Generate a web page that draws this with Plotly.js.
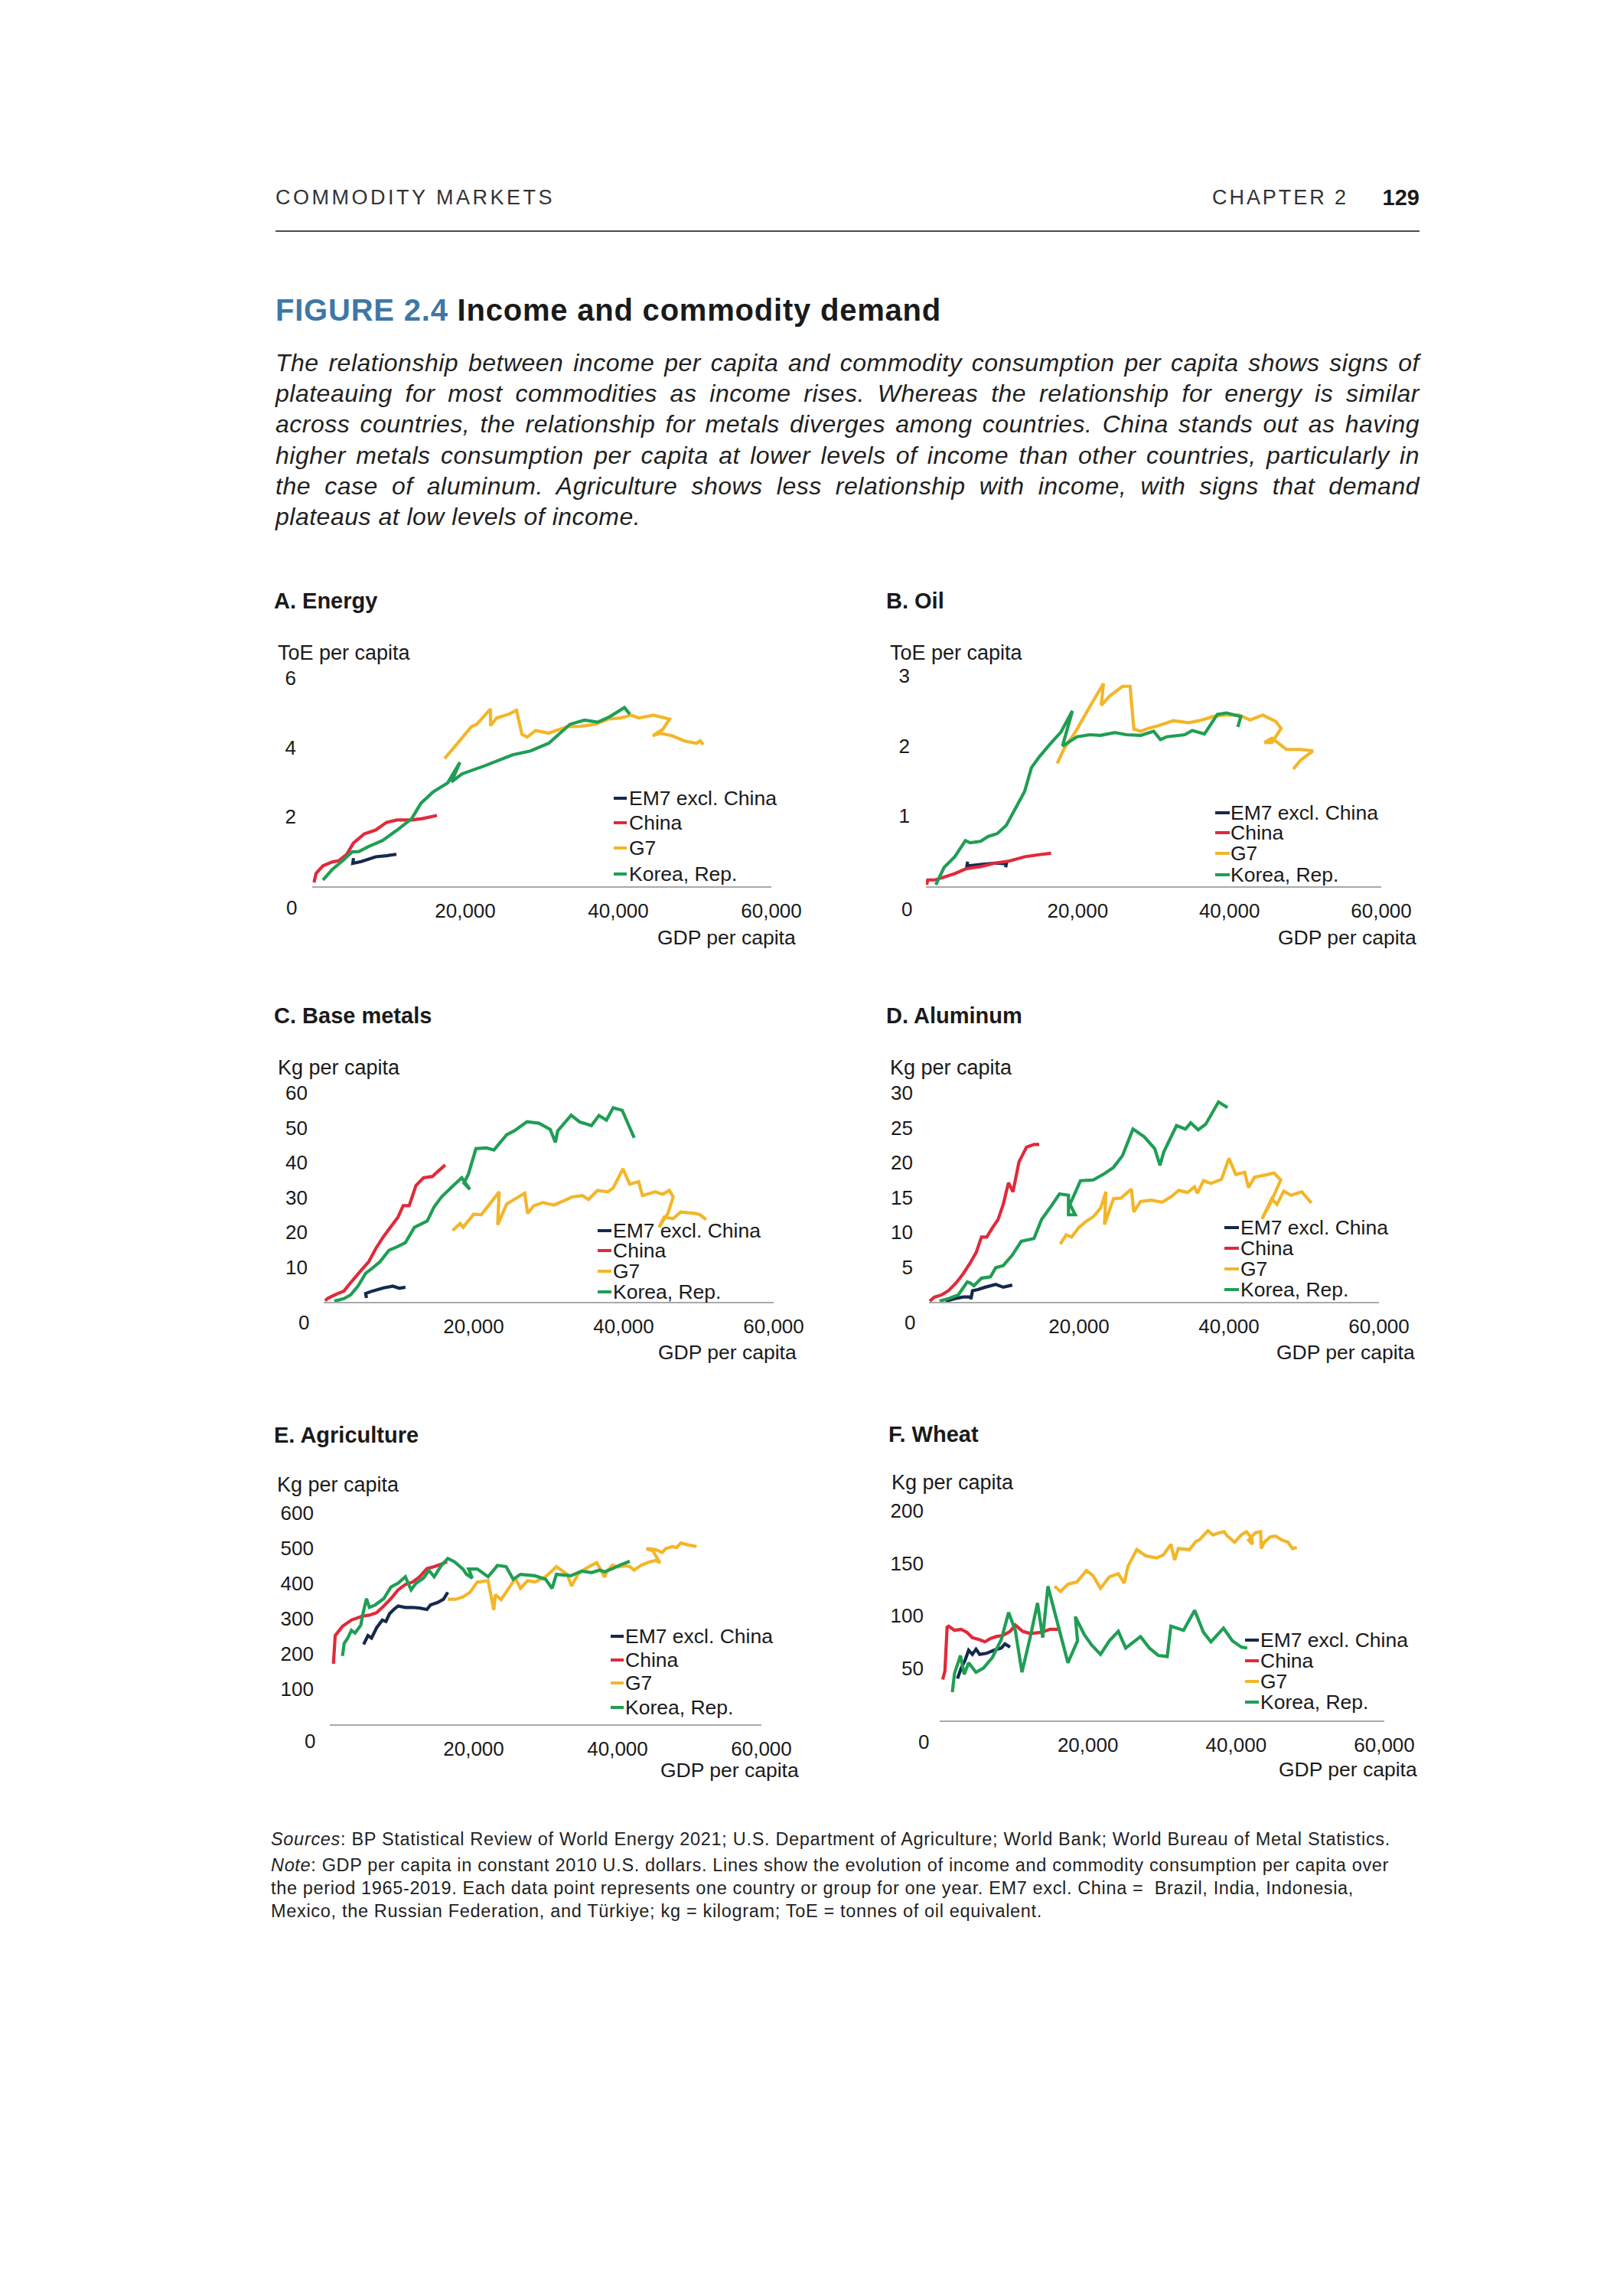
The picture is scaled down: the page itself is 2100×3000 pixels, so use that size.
<!DOCTYPE html>
<html>
<head>
<meta charset="utf-8">
<script src="https://cdn.plot.ly/plotly-3.0.1.min.js"></script>
<style>
html,body{margin:0;padding:0;background:#fff;}
body{width:2100px;height:3000px;position:relative;overflow:hidden;font-family:"Liberation Sans",Arial,Helvetica,sans-serif;color:#1a1a1a;}
#chart{position:absolute;left:0;top:0;width:2100px;height:3000px;z-index:1;}
.txt{position:absolute;z-index:2;white-space:nowrap;}
#hdrL{left:360px;top:245px;font-size:27px;line-height:27px;color:#333;}
#hdrR{left:1584px;top:245px;font-size:27px;line-height:27px;color:#333;}
#pageNo{right:245px;top:244px;font-size:29px;line-height:29px;font-weight:bold;color:#1a1a1a;}
#rule{position:absolute;left:360px;top:301px;width:1495px;height:2px;background:#4d4d4d;z-index:2;}
#figTitle{left:360px;top:385px;font-size:40px;line-height:40px;font-weight:bold;color:#1a1a1a;}
#figTitle .num{color:#3f77a5;}
#para{position:absolute;left:360px;top:454px;width:1495px;z-index:2;}
#para div{font-size:32px;line-height:40.2px;font-style:italic;white-space:nowrap;text-align:justify;text-align-last:justify;color:#1f1f1f;width:1495px;}
#para div.last{text-align-last:left;}
#src{left:354px;top:2388px;font-size:23.5px;line-height:30px;color:#1f1f1f;}
#note{left:354px;top:2422px;font-size:23.5px;line-height:30px;color:#1f1f1f;}
#note div{white-space:nowrap;}
</style>
</head>
<body>
<div class="txt" id="hdrL" data-w="365">COMMODITY MARKETS</div>
<div class="txt" id="hdrR" data-w="178">CHAPTER 2</div>
<div class="txt" id="pageNo">129</div>
<div id="rule"></div>
<div class="txt" id="figTitle" data-w="870"><span class="num">FIGURE 2.4</span> Income and commodity demand</div>
<div id="para">
<div>The relationship between income per capita and commodity consumption per capita shows signs of</div>
<div>plateauing for most commodities as income rises. Whereas the relationship for energy is similar</div>
<div>across countries, the relationship for metals diverges among countries. China stands out as having</div>
<div>higher metals consumption per capita at lower levels of income than other countries, particularly in</div>
<div>the case of aluminum. Agriculture shows less relationship with income, with signs that demand</div>
<div class="last">plateaus at low levels of income.</div>
</div>
<div class="txt" id="src" data-w="1463"><i>Sources</i>: BP Statistical Review of World Energy 2021; U.S. Department of Agriculture; World Bank; World Bureau of Metal Statistics.</div>
<div class="txt" id="note">
<div data-w="1461"><i>Note</i>: GDP per capita in constant 2010 U.S. dollars. Lines show the evolution of income and commodity consumption per capita over</div>
<div data-w="1415">the period 1965-2019. Each data point represents one country or group for one year. EM7 excl. China =&nbsp; Brazil, India, Indonesia,</div>
<div data-w="1008">Mexico, the Russian Federation, and Türkiye; kg = kilogram; ToE = tonnes of oil equivalent.</div>
</div>
<div id="chart"></div>
<script>
// ---------------- DATA ----------------
const seriesNames = ['EM7 excl. China', 'China', 'G7', 'Korea, Rep.'];
const panelTitles = ['A. Energy', 'B. Oil', 'C. Base metals', 'D. Aluminum', 'E. Agriculture', 'F. Wheat'];
const unitLabels = ['ToE per capita', 'ToE per capita', 'Kg per capita', 'Kg per capita', 'Kg per capita', 'Kg per capita'];
const xAxisLabel = 'GDP per capita';
const xTickVals = [20000, 40000, 60000];
const xTickText = ['20,000', '40,000', '60,000'];
const zeroLabel = '0';
const energyTicks = [2, 4, 6];
const oilTicks = [1, 2, 3];
const baseTicks = [10, 20, 30, 40, 50, 60];
const aluTicks = [5, 10, 15, 20, 25, 30];
const agriTicks = [100, 200, 300, 400, 500, 600];
const wheatTicks = [50, 100, 150, 200];

// A. Energy (ToE per capita)
const energyEm7X = [5400, 5300, 6400, 8300, 9700, 11000];
const energyEm7Y = [0.81, 0.66, 0.71, 0.85, 0.88, 0.92];
const energyChinaX = [240, 500, 1400, 2600, 3500, 4500, 5400, 6800, 8300, 9700, 11100, 13000, 14400, 16300];
const energyChinaY = [0.11, 0.37, 0.59, 0.70, 0.74, 0.92, 1.25, 1.51, 1.62, 1.84, 1.91, 1.91, 1.95, 2.04];
const energyG7X = [17300, 19100, 20800, 21500, 23300, 23300, 24100, 25700, 26700, 27400, 28100, 29200, 30900, 33300, 35100, 37000, 38700, 40300, 41700, 42700, 44600, 46700, 45800, 44500, 45500, 47000, 48600, 50200, 50700, 51100];
const energyG7Y = [3.68, 4.15, 4.60, 4.67, 5.11, 4.63, 4.85, 4.96, 5.07, 4.38, 4.30, 4.49, 4.41, 4.60, 4.61, 4.67, 4.82, 4.85, 4.93, 4.85, 4.93, 4.82, 4.52, 4.34, 4.41, 4.34, 4.19, 4.12, 4.19, 4.08];
const energyKoreaX = [1400, 2600, 4000, 5200, 6100, 7300, 9200, 11100, 13000, 14200, 15800, 17700, 19300, 18200, 19600, 22400, 26200, 28500, 30900, 33700, 35600, 37300, 38900, 40800, 41500];
const energyKoreaY = [0.18, 0.48, 0.74, 0.99, 1.00, 1.14, 1.32, 1.62, 1.95, 2.39, 2.72, 2.98, 3.57, 3.01, 3.24, 3.46, 3.79, 3.90, 4.12, 4.67, 4.79, 4.73, 4.89, 5.15, 4.96];

// B. Oil (ToE per capita)
const oilEm7X = [5500, 5400, 7200, 9100, 10600, 10500];
const oilEm7Y = [0.35, 0.29, 0.31, 0.33, 0.32, 0.27];
const oilChinaX = [100, 240, 1200, 2400, 3800, 5300, 7200, 9100, 11000, 13000, 14900, 16500];
const oilChinaY = [0.02, 0.09, 0.09, 0.13, 0.18, 0.25, 0.28, 0.33, 0.36, 0.42, 0.45, 0.47];
const oilG7X = [17300, 18200, 19700, 21600, 23400, 23100, 24200, 25900, 26900, 27400, 28300, 29300, 30700, 32600, 34600, 36000, 37900, 39400, 41300, 42700, 44400, 46100, 46800, 45600, 44600, 45600, 47500, 49400, 51000, 49400, 48400];
const oilG7Y = [1.75, 1.96, 2.20, 2.56, 2.89, 2.58, 2.71, 2.85, 2.85, 2.24, 2.21, 2.25, 2.29, 2.36, 2.33, 2.36, 2.42, 2.44, 2.44, 2.37, 2.44, 2.35, 2.25, 2.05, 2.05, 2.11, 1.95, 1.95, 1.93, 1.80, 1.67];
const oilKoreaX = [1300, 2400, 3800, 5200, 5800, 7200, 8200, 9400, 10600, 12000, 13000, 13900, 14900, 16300, 17800, 19300, 18000, 19900, 21600, 23000, 24900, 26400, 28300, 30000, 30900, 31700, 34100, 35100, 36700, 38400, 39600, 41500, 41100];
const oilKoreaY = [0.02, 0.27, 0.42, 0.65, 0.62, 0.64, 0.71, 0.75, 0.87, 1.15, 1.35, 1.69, 1.84, 2.02, 2.20, 2.50, 2.00, 2.13, 2.16, 2.15, 2.19, 2.16, 2.15, 2.21, 2.09, 2.13, 2.16, 2.22, 2.17, 2.45, 2.47, 2.42, 2.27];

// C. Base metals (Kg per capita)
const baseEm7X = [5700, 5600, 6500, 8000, 9200, 10100, 10900];
const baseEm7Y = [1.1, 2.4, 3.1, 4.0, 4.5, 3.9, 4.2];
const baseChinaX = [200, 500, 1200, 1900, 2700, 3400, 4100, 5100, 6000, 7000, 8000, 8900, 9900, 10600, 11400, 12300, 13300, 14500, 15200, 16200];
const baseChinaY = [0.3, 0.95, 1.7, 2.4, 3.1, 5.0, 6.8, 9.3, 11.5, 15.5, 18.8, 21.4, 24.3, 27.6, 27.6, 33.4, 35.6, 36.0, 37.4, 39.3];
const baseG7X = [17200, 18200, 18600, 20000, 21000, 22500, 23400, 23200, 24400, 25400, 26800, 27200, 28000, 29200, 30700, 32100, 33100, 34500, 35300, 36500, 37900, 38600, 39900, 40800, 42000, 42500, 44200, 45200, 46100, 46600, 45900, 44700, 45400, 46600, 47600, 49500, 50200, 51000];
const baseG7Y = [20.5, 22.5, 21.4, 25.2, 25.0, 29.1, 31.6, 22.1, 28.1, 29.4, 31.2, 25.4, 27.6, 28.5, 27.8, 29.1, 30.1, 30.5, 29.4, 32.0, 31.6, 32.7, 38.2, 33.8, 34.5, 30.5, 31.6, 30.9, 32.0, 30.1, 25.4, 21.4, 24.3, 23.9, 25.8, 25.4, 25.0, 23.6];
const baseKoreaX = [1400, 2700, 3600, 4600, 5600, 6500, 7500, 8700, 9900, 10900, 12100, 13800, 14700, 15700, 17100, 18400, 19500, 18700, 19300, 20300, 21700, 22700, 24400, 25400, 27100, 28700, 30200, 30900, 31200, 33000, 34100, 35700, 36700, 37700, 38600, 39800, 41400];
const baseKoreaY = [0.2, 0.9, 2.0, 4.6, 8.2, 9.7, 11.5, 14.8, 15.9, 17.0, 21.4, 23.2, 27.2, 30.1, 33.0, 35.6, 32.3, 34.1, 36.7, 44.0, 44.2, 43.6, 48.0, 49.1, 51.7, 51.3, 49.5, 45.8, 49.1, 53.6, 51.7, 50.6, 53.5, 52.2, 55.7, 55.0, 47.1];

// D. Aluminum (Kg per capita)
const aluEm7X = [2200, 3600, 4600, 5500, 5600, 5800, 6500, 7500, 8900, 9900, 11100];
const aluEm7Y = [0.1, 0.5, 0.7, 0.7, 0.4, 1.6, 1.75, 2.1, 2.5, 2.1, 2.4];
const aluChinaX = [100, 700, 1700, 2600, 3600, 4600, 5500, 6300, 7000, 7700, 8500, 9200, 9900, 10600, 11200, 12000, 13000, 14000, 14700];
const aluChinaY = [0.1, 0.66, 1.0, 1.6, 2.7, 4.1, 5.6, 7.1, 9.3, 9.3, 10.7, 11.8, 14.0, 17.1, 15.8, 20.1, 22.2, 22.6, 22.6];
const aluG7X = [17500, 18300, 19000, 20000, 21000, 21900, 22900, 23600, 23400, 24600, 25600, 27000, 27300, 28200, 29600, 31100, 32300, 33300, 34500, 35400, 35800, 36600, 37600, 39000, 40000, 40900, 42100, 42600, 43400, 44800, 46000, 46900, 45500, 44400, 45700, 46400, 47300, 48300, 49700, 51000];
const aluG7Y = [8.3, 9.6, 9.3, 10.7, 11.6, 12.2, 13.5, 15.8, 11.1, 14.8, 14.9, 16.2, 12.9, 14.4, 14.6, 14.3, 15.1, 16.0, 15.7, 16.5, 15.6, 17.4, 17.0, 17.6, 20.6, 18.3, 18.6, 16.4, 17.9, 18.2, 18.5, 17.5, 14.1, 11.9, 14.8, 14.0, 15.9, 15.3, 15.8, 14.2];
const aluKoreaX = [1400, 2700, 3900, 5100, 5500, 6000, 7000, 8200, 8900, 9900, 11100, 12300, 14000, 15000, 16200, 17400, 18600, 18600, 19500, 18800, 20200, 21900, 23400, 24600, 25800, 27200, 28700, 30100, 30800, 31300, 33000, 34200, 34900, 35900, 36900, 38600, 39800];
const aluKoreaY = [0.1, 0.5, 1.0, 2.85, 2.7, 2.3, 3.4, 3.6, 4.9, 5.2, 6.7, 8.7, 9.1, 11.8, 13.6, 15.5, 15.3, 12.5, 12.5, 14.0, 17.4, 17.5, 18.4, 19.3, 21.0, 24.8, 23.7, 22.0, 19.6, 21.5, 25.3, 24.8, 25.7, 24.7, 25.5, 28.7, 27.9];

// E. Agriculture (Kg per capita)
const agriEm7X = [4700, 5300, 5800, 6500, 7300, 7800, 8300, 9000, 9500, 10500, 11500, 12500, 13500, 14000, 15000, 15800, 16400];
const agriEm7Y = [227, 252, 245, 274, 296, 292, 314, 328, 336, 332, 332, 330, 326, 339, 346, 355, 375];
const agriChinaX = [500, 750, 1750, 3000, 4500, 5500, 6500, 7500, 8500, 9500, 10500, 11500, 12500, 13500, 14500, 15500, 16300];
const agriChinaY = [172, 252, 278, 296, 307, 310, 317, 336, 357, 382, 397, 404, 419, 442, 448, 455, 462];
const agriG7X = [16400, 17500, 18500, 19500, 20500, 22000, 22800, 23000, 23800, 25000, 25800, 26500, 27500, 28500, 30000, 31500, 33000, 33600, 34500, 35000, 36400, 37100, 37500, 38200, 38500, 39300, 40000, 41200, 41700, 42300, 43300, 44400, 45300, 45900, 44900, 44000, 45300, 46200, 46700, 47600, 48200, 48800, 49700, 51000];
const agriG7Y = [355, 355, 362, 375, 404, 408, 325, 368, 354, 390, 415, 386, 408, 404, 419, 448, 426, 393, 426, 435, 452, 459, 445, 418, 434, 452, 447, 450, 448, 438, 452, 461, 466, 459, 493, 499, 496, 488, 499, 505, 502, 515, 510, 505];
const agriKoreaX = [1750, 2000, 2500, 3000, 3500, 4300, 4600, 5100, 5500, 6300, 7500, 8500, 9500, 10500, 11300, 12000, 13000, 13800, 14500, 15500, 16400, 17300, 18500, 19000, 19800, 19300, 20500, 22000, 23300, 24500, 25500, 26500, 28500, 30000, 30900, 31500, 33500, 35000, 36400, 37500, 38200, 39300, 40300, 41700];
const agriKoreaY = [194, 230, 245, 267, 259, 281, 314, 357, 332, 339, 357, 390, 401, 419, 382, 401, 415, 437, 419, 451, 471, 462, 441, 426, 415, 441, 441, 419, 451, 448, 412, 426, 422, 412, 386, 426, 422, 435, 431, 438, 433, 442, 452, 463];

// F. Wheat (Kg per capita)
const wheatEm7X = [2400, 2900, 3400, 3900, 4400, 4900, 5400, 6300, 7300, 8300, 8800, 9500];
const wheatEm7Y = [40, 50, 57, 67, 63, 68, 63, 64, 67, 69, 73, 70];
const wheatChinaX = [400, 700, 1000, 1200, 2000, 2900, 3700, 4400, 5400, 6100, 6800, 7600, 8500, 9500, 10200, 11200, 12200, 13700, 14900, 16100];
const wheatChinaY = [39, 47, 89, 90, 86, 87, 84, 79, 77, 75, 78, 80, 81, 85, 91, 85, 83, 84, 87, 87];
const wheatG7X = [15500, 16300, 17300, 18500, 19800, 20700, 21700, 22900, 24100, 24900, 25400, 26600, 27800, 29300, 30200, 31200, 31700, 32200, 33700, 34600, 35000, 36200, 36900, 37700, 38400, 38800, 39800, 40700, 41400, 42100, 42200, 41700, 42600, 43300, 43400, 43800, 44600, 45300, 46200, 47000, 47600, 48200];
const wheatG7Y = [128, 123, 130, 132, 143, 138, 126, 137, 140, 131, 147, 163, 157, 155, 158, 168, 153, 164, 163, 171, 172, 181, 177, 179, 180, 176, 170, 177, 180, 174, 168, 172, 179, 180, 164, 170, 175, 176, 172, 170, 164, 165];
const wheatKoreaX = [1700, 2000, 2800, 3300, 3900, 4900, 5900, 7100, 8300, 9300, 10200, 11100, 12200, 13200, 13900, 14600, 15600, 16600, 17300, 18600, 18300, 19500, 20500, 21700, 22900, 24100, 25100, 27100, 28300, 29500, 30700, 31200, 32900, 34400, 35600, 36600, 38300, 39500, 40700, 41500];
const wheatKoreaY = [27, 45, 62, 44, 55, 46, 50, 60, 77, 103, 86, 46, 79, 112, 79, 128, 101, 74, 55, 76, 99, 82, 72, 63, 76, 85, 69, 80, 69, 62, 61, 90, 86, 105, 84, 75, 88, 76, 70, 69];

// ---------------- STYLE / LAYOUT ----------------
const seriesColors = ['#15294f', '#e12a3a', '#f3b628', '#1f9e54'];
const W = 2100, H = 3000;
const fx = p => p / W;
const fy = p => 1 - p / H;

const panels = [
  {ymax: 6, yticks: energyTicks, data: [[energyEm7X, energyEm7Y], [energyChinaX, energyChinaY], [energyG7X, energyG7Y], [energyKoreaX, energyKoreaY]],
   box: {x0: 408, x1: 1008, yb: 1158, yt: 886}, title: [358, 785], unit: [363, 853], gdp: [1040, 1225], zero: [381, 1186],
   leg: {sx: 802, ex: 819, tx: 820, rows: [1043, 1075, 1108, 1142]}},
  {ymax: 3, yticks: oilTicks, data: [[oilEm7X, oilEm7Y], [oilChinaX, oilChinaY], [oilG7X, oilG7Y], [oilKoreaX, oilKoreaY]],
   box: {x0: 1210, x1: 1805, yb: 1158, yt: 883}, title: [1158, 785], unit: [1163, 853], gdp: [1851, 1225], zero: [1185, 1188],
   leg: {sx: 1588, ex: 1607, tx: 1606, rows: [1062, 1088, 1115, 1143]}},
  {ymax: 60, yticks: baseTicks, data: [[baseEm7X, baseEm7Y], [baseChinaX, baseChinaY], [baseG7X, baseG7Y], [baseKoreaX, baseKoreaY]],
   box: {x0: 423, x1: 1011, yb: 1701, yt: 1428}, title: [358, 1327], unit: [363, 1395], gdp: [1041, 1767], zero: [397, 1728],
   leg: {sx: 781, ex: 799, tx: 799, rows: [1608, 1634, 1661, 1688]}},
  {ymax: 30, yticks: aluTicks, data: [[aluEm7X, aluEm7Y], [aluChinaX, aluChinaY], [aluG7X, aluG7Y], [aluKoreaX, aluKoreaY]],
   box: {x0: 1214, x1: 1802, yb: 1701, yt: 1428}, title: [1158, 1327], unit: [1163, 1395], gdp: [1849, 1767], zero: [1189, 1728],
   leg: {sx: 1600, ex: 1619, tx: 1619, rows: [1604, 1631, 1658, 1685]}},
  {ymax: 600, yticks: agriTicks, data: [[agriEm7X, agriEm7Y], [agriChinaX, agriChinaY], [agriG7X, agriG7Y], [agriKoreaX, agriKoreaY]],
   box: {x0: 431, x1: 995, yb: 2253, yt: 1977}, title: [358, 1875], unit: [362, 1940], gdp: [1044, 2313], zero: [405, 2275],
   leg: {sx: 798, ex: 815, tx: 815, rows: [2138, 2169, 2199, 2231]}},
  {ymax: 200, yticks: wheatTicks, data: [[wheatEm7X, wheatEm7Y], [wheatChinaX, wheatChinaY], [wheatG7X, wheatG7Y], [wheatKoreaX, wheatKoreaY]],
   box: {x0: 1228, x1: 1809, yb: 2248, yt: 1974}, title: [1161, 1874], unit: [1165, 1937], gdp: [1852, 2312], zero: [1207, 2276],
   leg: {sx: 1627, ex: 1645, tx: 1645, rows: [2143, 2170, 2197, 2224]}}
];

const FONT = '"Liberation Sans", Arial, Helvetica, sans-serif';
const TXT = '#1a1a1a';
const layout = {
  width: W, height: H,
  margin: {l: 0, r: 0, t: 0, b: 0},
  paper_bgcolor: 'rgba(0,0,0,0)', plot_bgcolor: 'rgba(0,0,0,0)',
  showlegend: false,
  font: {family: FONT, size: 26, color: TXT},
  annotations: [], shapes: []
};
const traces = [];

panels.forEach((p, i) => {
  const sfx = i === 0 ? '' : String(i + 1);
  layout['xaxis' + sfx] = {
    domain: [fx(p.box.x0), fx(p.box.x1)], range: [0, 60000], anchor: 'y' + sfx,
    showline: true, linecolor: '#a9a9a9', linewidth: 1.5, showgrid: false, zeroline: false,
    tickmode: 'array', tickvals: xTickVals, ticktext: xTickText, ticks: '', ticklabelstandoff: 8,
    tickfont: {family: FONT, size: 26, color: TXT}, fixedrange: true
  };
  layout['yaxis' + sfx] = {
    domain: [fy(p.box.yb), fy(p.box.yt)], range: [0, p.ymax], anchor: 'x' + sfx,
    showline: false, showgrid: false, zeroline: false,
    tickmode: 'array', tickvals: p.yticks, ticks: '', ticklabelstandoff: 20,
    tickfont: {family: FONT, size: 26, color: TXT}, fixedrange: true
  };
  p.data.forEach((d, k) => {
    traces.push({
      x: d[0], y: d[1], xaxis: 'x' + sfx, yaxis: 'y' + sfx,
      type: 'scatter', mode: 'lines', name: seriesNames[k],
      line: {color: seriesColors[k], width: 4.2, simplify: false},
      showlegend: false, hoverinfo: 'skip'
    });
    // legend entry: coloured sample + label
    layout.shapes.push({type: 'line', xref: 'paper', yref: 'paper',
      x0: fx(p.leg.sx), x1: fx(p.leg.ex), y0: fy(p.leg.rows[k]), y1: fy(p.leg.rows[k]),
      line: {color: seriesColors[k], width: 4}});
    layout.annotations.push({xref: 'paper', yref: 'paper', x: fx(p.leg.tx), y: fy(p.leg.rows[k]),
      xanchor: 'left', yanchor: 'middle', showarrow: false, text: seriesNames[k],
      font: {family: FONT, size: 26.5, color: TXT}});
  });
  layout.annotations.push({xref: 'paper', yref: 'paper', x: fx(p.title[0] - 2), y: fy(p.title[1]),
    xanchor: 'left', yanchor: 'middle', showarrow: false, text: '<b>' + panelTitles[i] + '</b>',
    font: {family: FONT, size: 29, color: TXT}});
  layout.annotations.push({xref: 'paper', yref: 'paper', x: fx(p.unit[0] - 2), y: fy(p.unit[1]),
    xanchor: 'left', yanchor: 'middle', showarrow: false, text: unitLabels[i],
    font: {family: FONT, size: 27, color: TXT}});
  layout.annotations.push({xref: 'paper', yref: 'paper', x: fx(p.gdp[0] + 2), y: fy(p.gdp[1]),
    xanchor: 'right', yanchor: 'middle', showarrow: false, text: xAxisLabel,
    font: {family: FONT, size: 26.5, color: TXT}});
  layout.annotations.push({xref: 'paper', yref: 'paper', x: fx(p.zero[0]), y: fy(p.zero[1]),
    xanchor: 'center', yanchor: 'middle', showarrow: false, text: zeroLabel,
    font: {family: FONT, size: 26, color: TXT}});
});

Plotly.newPlot('chart', traces, layout, {staticPlot: true, displayModeBar: false});

// fit page text widths to the reference line lengths
function naturalWidth(el) {
  const span = document.createElement('span');
  const cs = getComputedStyle(el);
  span.style.position = 'absolute';
  span.style.visibility = 'hidden';
  span.style.whiteSpace = 'nowrap';
  span.style.fontFamily = cs.fontFamily;
  span.style.fontSize = cs.fontSize;
  span.style.fontStyle = cs.fontStyle;
  span.style.fontWeight = cs.fontWeight;
  span.style.letterSpacing = '0px';
  span.innerHTML = el.innerHTML;
  document.body.appendChild(span);
  const w = span.getBoundingClientRect().width;
  span.remove();
  return w;
}
function fitText() {
  document.querySelectorAll('[data-w]').forEach(el => {
    const target = parseFloat(el.getAttribute('data-w'));
    const w = naturalWidth(el);
    const n = el.textContent.length;
    if (n > 1) el.style.letterSpacing = ((target - w) / n) + 'px';
  });
  document.querySelectorAll('#para div').forEach(el => {
    const w = naturalWidth(el);
    const n = el.textContent.length;
    let ls = 0.5;
    if (w + n * ls > 1490) ls = (1490 - w) / n;
    el.style.letterSpacing = ls + 'px';
  });
}
fitText();
if (document.fonts && document.fonts.ready) { document.fonts.ready.then(fitText); }
</script>
</body>
</html>
